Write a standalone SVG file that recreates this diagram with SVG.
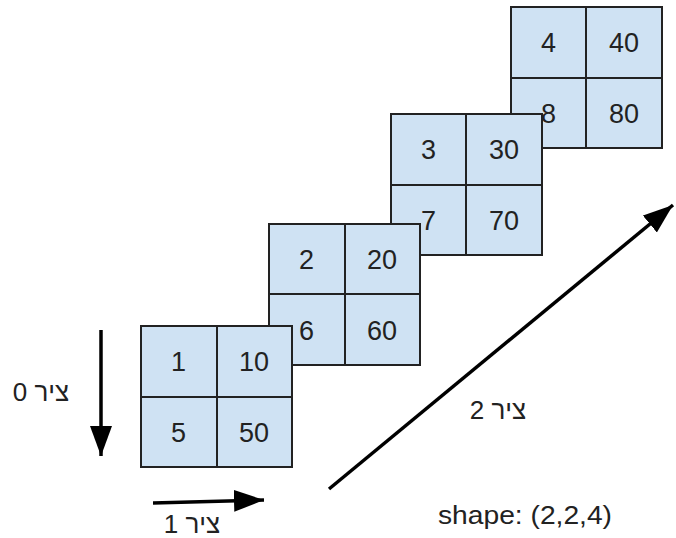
<svg xmlns="http://www.w3.org/2000/svg" width="676" height="538" viewBox="0 0 676 538">
  <style>
    .frame { fill: #cfe2f3; stroke: #222; stroke-width: 2; }
    .div { stroke: #222; stroke-width: 2; }
    .num { font-family: "Liberation Sans", Arial, sans-serif; font-size: 27px; fill: #222; text-anchor: middle; }
    .lbl { font-family: "Liberation Sans", Arial, sans-serif; font-size: 26px; fill: #222; text-anchor: middle; }
    .axis { stroke: #000; stroke-width: 3.5; fill: none; }
  </style>
  <defs>
    <marker id="head" markerUnits="userSpaceOnUse" markerWidth="32" markerHeight="24" refX="30" refY="11" orient="auto">
      <path d="M0,0 L30,11 L0,22 Z" fill="#000"/>
    </marker>
  </defs>
  <rect width="676" height="538" fill="#fff"/>

  <g id="slice4" transform="translate(511,7)">
    <rect class="frame" x="0" y="0" width="151" height="141"/>
    <line class="div" x1="75" y1="0" x2="75" y2="141"/>
    <line class="div" x1="0" y1="71" x2="151" y2="71"/>
    <text class="num" x="37.5" y="45">4</text>
    <text class="num" x="113" y="45">40</text>
    <text class="num" x="37.5" y="116">8</text>
    <text class="num" x="113" y="116">80</text>
  </g>
  <g id="slice3" transform="translate(391,114)">
    <rect class="frame" x="0" y="0" width="151" height="141"/>
    <line class="div" x1="75" y1="0" x2="75" y2="141"/>
    <line class="div" x1="0" y1="71" x2="151" y2="71"/>
    <text class="num" x="37.5" y="45">3</text>
    <text class="num" x="113" y="45">30</text>
    <text class="num" x="37.5" y="116">7</text>
    <text class="num" x="113" y="116">70</text>
  </g>
  <g id="slice2" transform="translate(269,224)">
    <rect class="frame" x="0" y="0" width="151" height="141"/>
    <line class="div" x1="76" y1="0" x2="76" y2="141"/>
    <line class="div" x1="0" y1="70" x2="151" y2="70"/>
    <text class="num" x="37.5" y="45">2</text>
    <text class="num" x="113" y="45">20</text>
    <text class="num" x="37.5" y="116">6</text>
    <text class="num" x="113" y="116">60</text>
  </g>
  <g id="slice1" transform="translate(141,326)">
    <rect class="frame" x="0" y="0" width="151" height="141"/>
    <line class="div" x1="76" y1="0" x2="76" y2="141"/>
    <line class="div" x1="0" y1="71" x2="151" y2="71"/>
    <text class="num" x="37.5" y="45">1</text>
    <text class="num" x="113" y="45">10</text>
    <text class="num" x="37.5" y="116">5</text>
    <text class="num" x="113" y="116">50</text>
  </g>

  <g id="connectors">
    <line class="axis" x1="101" y1="330" x2="101" y2="456" marker-end="url(#head)"/>
    <line class="axis" x1="153" y1="503" x2="264" y2="500" marker-end="url(#head)"/>
    <line class="axis" x1="329" y1="489" x2="673" y2="205" marker-end="url(#head)"/>
  </g>

  <g id="labels">
    <text class="lbl" x="41" y="401" direction="rtl" unicode-bidi="embed">ציר 0</text>
    <text class="lbl" x="192" y="533" direction="rtl" unicode-bidi="embed">ציר 1</text>
    <text class="lbl" x="498" y="419" direction="rtl" unicode-bidi="embed">ציר 2</text>
    <text class="lbl" x="525" y="524" textLength="174" lengthAdjust="spacingAndGlyphs">shape: (2,2,4)</text>
  </g>
</svg>
